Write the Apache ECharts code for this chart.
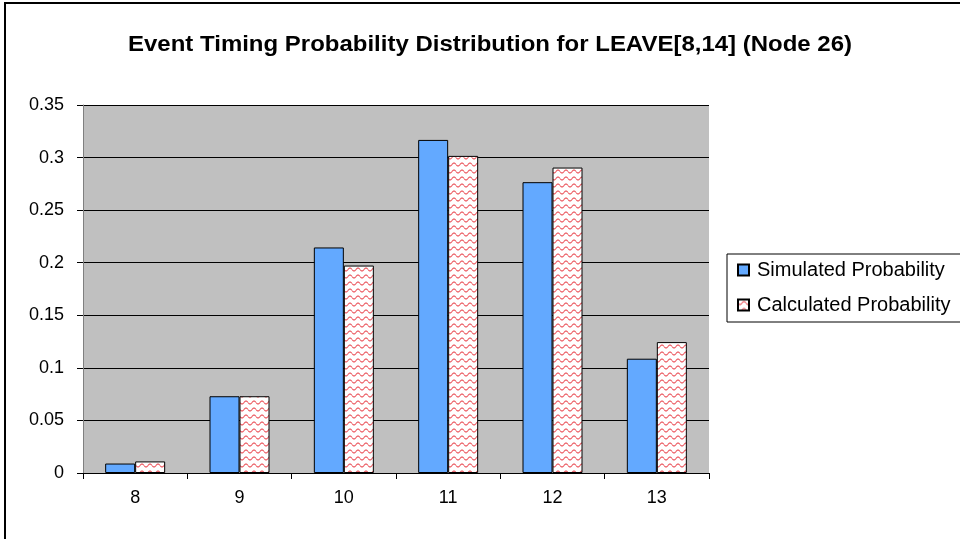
<!DOCTYPE html>
<html>
<head>
<meta charset="utf-8">
<script src="https://cdn.jsdelivr.net/npm/echarts@6/dist/echarts.min.js"></script>
<style>
html,body{margin:0;padding:0;background:#fff;}
#main{width:960px;height:539px;}
</style>
</head>
<body>
<div id="main"></div>
<script>
const categories = ['8', '9', '10', '11', '12', '13'];
const simulated = [0.009, 0.073, 0.2145, 0.3168, 0.2766, 0.1087];
const calculated = [0.011, 0.073, 0.1973, 0.3016, 0.2905, 0.1245];
const yTicks = { min: 0, max: 0.35, interval: 0.05 };
const titleText = 'Event Timing Probability Distribution for LEAVE[8,14] (Node 26)';
const seriesNames = ['Simulated Probability', 'Calculated Probability'];

// wavy red pattern
const pc = document.createElement('canvas');
pc.width = 8; pc.height = 7;
const ctx = pc.getContext('2d');
ctx.fillStyle = '#ffffff';
ctx.fillRect(0, 0, 8, 7);
ctx.strokeStyle = 'rgba(230,40,50,0.75)';
ctx.lineWidth = 1.1;
ctx.beginPath();
for (let x = 0; x <= 8; x += 0.5) {
  const y = 3.5 + 1.5 * Math.sin(x / 8 * Math.PI * 2);
  if (x === 0) ctx.moveTo(x, y); else ctx.lineTo(x, y);
}
ctx.stroke();

const chart = echarts.init(document.getElementById('main'), null, { renderer: 'canvas' });
const font = 'Liberation Sans, Arial, sans-serif';
chart.setOption({
  animation: false,
  backgroundColor: '#ffffff',
  graphic: [
    { type: 'line', shape: { x1: 5, y1: 2, x2: 5, y2: 539 }, style: { stroke: '#000', lineWidth: 2 } },
    { type: 'line', shape: { x1: 4, y1: 3, x2: 960, y2: 3 }, style: { stroke: '#000', lineWidth: 2 } },
    {
      type: 'text', x: 490, y: 45, scaleX: 1.09,
      style: {
        text: titleText, fontFamily: font, fontSize: 22, fontWeight: 'bold', fill: '#000',
        textAlign: 'center', textVerticalAlign: 'middle'
      }
    }
  ],
  legend: {
    orient: 'vertical',
    left: 727, top: 254,
    padding: [6, 40, 7, 10],
    itemGap: 15,
    itemWidth: 11, itemHeight: 11,
    borderColor: '#000', borderWidth: 1,
    icon: 'rect',
    textStyle: { fontFamily: font, fontSize: 20, color: '#000', padding: [0, 0, 0, 3] },
    data: seriesNames
  },
  grid: { left: 83, right: 251, top: 105, bottom: 66, show: true, backgroundColor: '#C0C0C0', borderWidth: 0 },
  xAxis: {
    type: 'category',
    data: categories,
    axisLine: { lineStyle: { color: '#000', width: 1 } },
    axisTick: { show: true, length: 6, lineStyle: { color: '#000' } },
    axisLabel: { fontFamily: font, fontSize: 18, color: '#000', margin: 16 }
  },
  yAxis: {
    type: 'value',
    min: yTicks.min, max: yTicks.max, interval: yTicks.interval,
    axisLine: { show: true, lineStyle: { color: '#808080', width: 1 } },
    axisTick: { show: true, length: 6, lineStyle: { color: '#000' } },
    splitLine: { lineStyle: { color: '#000', width: 1 } },
    axisLabel: { fontFamily: font, fontSize: 18, color: '#000', margin: 19 }
  },
  series: [
    {
      name: seriesNames[0], type: 'bar', data: simulated,
      barWidth: 30, barGap: '0%',
      itemStyle: { color: '#63A9FF', borderColor: '#000', borderWidth: 1 }
    },
    {
      name: seriesNames[1], type: 'bar', data: calculated,
      barWidth: 30, barGap: '0%',
      itemStyle: { color: { image: pc, repeat: 'repeat' }, borderColor: '#000', borderWidth: 1 }
    }
  ]
});
</script>
</body>
</html>
